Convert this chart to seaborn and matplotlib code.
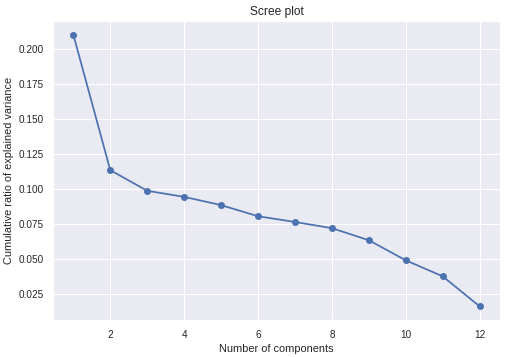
import numpy as np
import pandas as pd
import seaborn as sns
import matplotlib
matplotlib.use("Agg")
import matplotlib.pyplot as plt

# values
components = [1, 2, 3, 4, 5, 6, 7, 8, 9, 10, 11, 12]
explained = [0.2100, 0.1135, 0.0988, 0.0945, 0.0886, 0.0807,
             0.0766, 0.0722, 0.0636, 0.0493, 0.0379, 0.0165]

sns.set_theme(style="darkgrid", rc={
    "axes.titlesize": 12,
    "axes.labelsize": 11,
    "xtick.labelsize": 10,
    "ytick.labelsize": 10,
})
plt.rcParams["font.family"] = ["Liberation Sans", "DejaVu Sans"]

df = pd.DataFrame({"component": components, "ratio": explained})

fig, ax = plt.subplots(figsize=(506 / 72, 357 / 72), dpi=72)
fig.subplots_adjust(left=53 / 506, right=500 / 506, top=1 - 21 / 357, bottom=1 - 320 / 357)

sns.lineplot(data=df, x="component", y="ratio", marker="o", color="#4C72B0",
             linewidth=1.75, markersize=7, markeredgewidth=0, ax=ax)

ax.set_title("Scree plot")
ax.set_xlabel("Number of components")
ax.set_ylabel("Cumulative ratio of explained variance")

fig.savefig("out.png", dpi=72)
